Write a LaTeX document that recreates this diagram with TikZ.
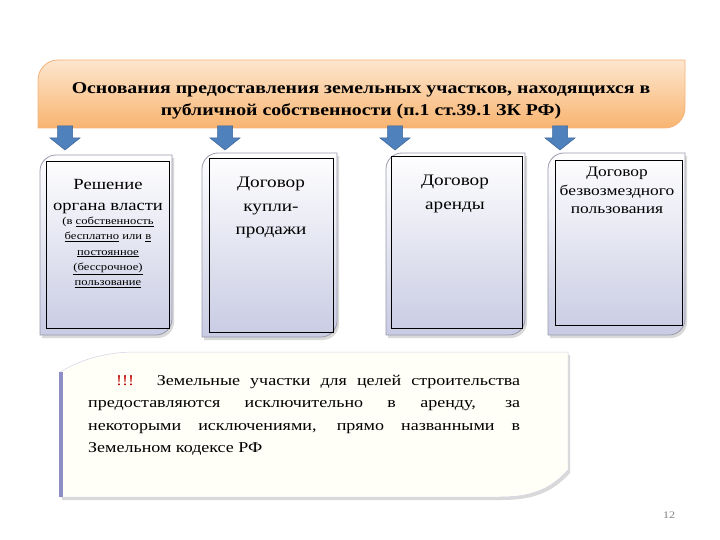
\documentclass[tikz,border=0pt]{standalone}
\usepackage{fontspec}
\setmainfont{Liberation Serif}[FakeStretch=1.2]
\usetikzlibrary{shadows}
\definecolor{banbot}{HTML}{F8B470}
\definecolor{bantop}{HTML}{FDE6CE}
\definecolor{banedge}{HTML}{F5B27A}
\definecolor{cardbot}{HTML}{C8CBE3}
\definecolor{cardedge}{HTML}{9A9AAE}
\definecolor{arrowblue}{HTML}{4F81BD}
\definecolor{arrowedge}{HTML}{3A6496}
\definecolor{noteedge}{HTML}{8E8EC6}
\definecolor{notered}{HTML}{C00000}
% card outline: x1 y1 x2 y2 r  (rounded top-left and bottom-right)
\newcommand\diagpath[5]{({#1},{#4}) -- ({#1},{#2+#5}) .. controls ({#1},{#2+0.45*#5}) and ({#1+0.45*#5},{#2}) .. ({#1+#5},{#2}) -- ({#3},{#2}) -- ({#3},{#4-#5}) .. controls ({#3},{#4-0.45*#5}) and ({#3-0.45*#5},{#4}) .. ({#3-#5},{#4}) -- cycle}
% down block arrow centred at x, from y1 to y2
\newcommand\blockdown[3]{({#1-7.5},{#2}) -- ({#1+7.5},{#2}) -- ({#1+7.5},{#3-12}) -- ({#1+15},{#3-12}) -- ({#1},{#3}) -- ({#1-15},{#3-12}) -- ({#1-7.5},{#3-12}) -- cycle}
\tikzset{
  banner/.style={draw=banedge, line width=0.8pt, top color=bantop, bottom color=banbot},
  card/.style={draw=cardedge, line width=0.8pt, top color=white, bottom color=cardbot,
    drop shadow={shadow xshift=2pt, shadow yshift=-3pt, opacity=0.3}},
  inner/.style={draw=black, line width=0.6pt},
  blockarrow/.style={fill=arrowblue, draw=arrowedge, line width=0.5pt},
  note/.style={fill=white!97!yellow, draw=noteedge!40, line width=0.5pt,
    drop shadow={shadow xshift=2pt, shadow yshift=-3pt, opacity=0.3}},
  txt/.style={inner sep=0pt, align=center, text=black},
}
\begin{document}
\begin{tikzpicture}[x=1pt,y=-1pt]
\useasboundingbox (0,0) rectangle (720,540);

% banner
\path[banner] \diagpath{38}{60}{685}{128}{20};
\node[txt, font=\fontsize{16.5}{22}\selectfont\bfseries] (title) at (361,101)
  {Основания предоставления земельных участков, находящихся в\\публичной собственности (п.1 ст.39.1 ЗК РФ)};

% cards
\path[card] \diagpath{40}{155}{172}{335}{16};
\draw[inner] (46,161) rectangle (169,328);
\path[card] \diagpath{202}{153}{337}{337}{16};
\draw[inner] (209,158) rectangle (333,332);
\path[card] \diagpath{386}{153}{525}{335}{16};
\draw[inner] (391,156) rectangle (522,328);
\path[card] \diagpath{548}{153}{685}{335}{16};
\draw[inner] (555,160) rectangle (682,325);

% arrows
\path[blockarrow] \blockdown{65}{126}{150};
\path[blockarrow] \blockdown{225}{126}{150};
\path[blockarrow] \blockdown{395}{126}{150};
\path[blockarrow] \blockdown{560}{126}{150};

% card texts
\node[txt, anchor=north, font=\fontsize{15.5}{21}\selectfont] (c1) at (108,179)
  {Решение\\органа власти};
\node[txt, anchor=north, font=\fontsize{10.5}{15.2}\selectfont] (c1s) at (108,217)
  {(в \underline{собственность}\\\underline{бесплатно} или \underline{в}\\\underline{постоянное}\\\underline{(бессрочное)}\\\underline{пользование}};
\node[txt, anchor=north, font=\fontsize{16}{23.5}\selectfont] (c2) at (271,177)
  {Договор\\купли-\\продажи};
\node[txt, anchor=north, font=\fontsize{16}{23.5}\selectfont] (c3) at (455,175)
  {Договор\\аренды};
\node[txt, anchor=north, font=\fontsize{14.5}{18.5}\selectfont] (c4) at (617,167)
  {Договор\\безвозмездного\\пользования};

% note box
\path[note] (60,497) -- (60,372) .. controls (80,360) and (105,352) .. (135,352) -- (568,352) -- (568,470) .. controls (550,490) and (530,497) .. (500,497) -- cycle;
\draw[noteedge, line width=4pt] (61,372) -- (61,497);
\node[txt, anchor=north west, align=justify, text width=432pt, font=\fontsize{15}{22.5}\selectfont] (note) at (88,375)
  {\hspace*{28pt}{\color{notered}!!!} Земельные участки для целей строительства\linebreak предоставляются исключительно в аренду, за\linebreak некоторыми исключениями, прямо названными в\linebreak Земельном кодексе РФ};

% page number
\node[txt, font=\fontsize{10}{12}\selectfont, text=gray] (page) at (669,515) {12};
\end{tikzpicture}
\end{document}
